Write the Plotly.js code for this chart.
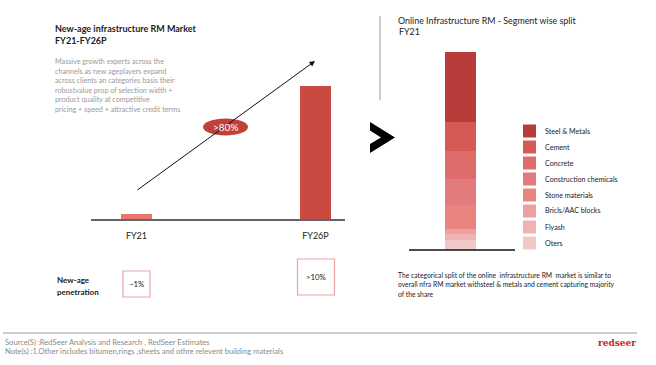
<!DOCTYPE html>
<html>
<head>
<meta charset="utf-8">
<script src="https://cdn.plot.ly/plotly-3.0.1.min.js"></script>
<style>html,body{margin:0;padding:0;background:#fff;}#chart{width:656px;height:365px;}</style>
</head>
<body>
<div id="chart"></div>
<script>
// ---- Data ----
var marketCategories = ['FY21', 'FY26P'];
var marketValues = [1, 26.6];
var marketColors = ['#e8766e', '#c94a40'];
var penetrationLabels = ['~1%', '>10%'];
var cagrLabel = '>80%';

var splitCategory = ['FY21'];
var segmentNames = ['Steel & Metals', 'Cement', 'Concrete', 'Construction chemicals', 'Stone materials', 'Bricls/AAC blocks', 'Flyash', 'Oters'];
var segmentShares = [35.4, 14.6, 14.1, 13.1, 12.1, 2.5, 3.0, 5.2];
var segmentColors = ['#b83c3a', '#d55a55', '#e06b6b', '#e27b7b', '#e8857e', '#eca0a0', '#f0b2b2', '#f1c8c8'];

var descLines = ['Massive growth experts across the', 'channels as new ageplayers expand', 'across clients an categories basis their', 'robustvalue prop of selection width +', 'product quality at competitive', 'pricing + speed + attractive credit terms'];
var rightNoteLines = ['The categorical split of the online  infrastructure RM  market is similar to', 'overall nfra RM market withsteel & metals and cement capturing majority', 'of the share'];

// ---- helpers (page pixels -> paper) ----
var W = 656, H = 365;
function px(x){ return x / W; }
function py(y){ return 1 - y / H; }
var FONT = 'Lato, "Open Sans", sans-serif';

var traces = [];
traces.push({
  type: 'bar', x: marketCategories, y: marketValues,
  marker: {color: marketColors}, width: 0.173,
  xaxis: 'x', yaxis: 'y', hoverinfo: 'none', showlegend: false
});
for (var i = segmentNames.length - 1; i >= 0; i--) {
  traces.push({
    type: 'bar', x: splitCategory, y: [segmentShares[i]], name: segmentNames[i],
    marker: {color: segmentColors[i]}, width: 1,
    xaxis: 'x2', yaxis: 'y2', hoverinfo: 'none', showlegend: false
  });
}

var annotations = [];
var shapes = [];
function txt(t, x, y, size, color, extra){
  var a = {text: t, x: px(x), y: py(y), xref: 'paper', yref: 'paper', xanchor: 'left', yanchor: 'middle',
    showarrow: false, font: {family: FONT, size: size, color: color}};
  if (extra) for (var k in extra) a[k] = extra[k];
  annotations.push(a);
}

// left titles
txt('<b>New-age infrastructure RM Market</b>', 53, 28, 9, '#222');
txt('<b>FY21-FY26P</b>', 53, 40, 9, '#222');
descLines.forEach(function(l, j){ txt(l, 53, 62 + j * 9.4, 7.2, '#9a9a9a'); });

// right titles
txt('Online Infrastructure RM - Segment wise split', 396, 20, 8.9, '#222');
txt('FY21', 397, 32, 8.9, '#222');

// arrow
annotations.push({x: px(315), y: py(61), ax: px(136), ay: py(191), xref: 'paper', yref: 'paper',
  axref: 'paper', ayref: 'paper', showarrow: true, arrowhead: 2, arrowsize: 1.1, arrowwidth: 1,
  arrowcolor: '#111', text: ''});
// cagr ellipse
shapes.push({type: 'circle', xref: 'paper', yref: 'paper', x0: px(203), x1: px(248), y0: py(118.5), y1: py(135.5),
  fillcolor: '#c0403a', line: {width: 0}, layer: 'above'});
annotations.push({text: cagrLabel, x: px(225.5), y: py(127), xref: 'paper', yref: 'paper', showarrow: false,
  xanchor: 'center', yanchor: 'middle', font: {family: FONT, size: 10, color: '#fff'}});

// penetration
txt('<b>New-age</b>', 55, 280, 8, '#222');
txt('<b>penetration</b>', 55, 292, 8, '#222');
var boxes = [[123, 150, 271, 297], [297.5, 334.5, 259, 295]];
boxes.forEach(function(b, j){
  shapes.push({type: 'rect', xref: 'paper', yref: 'paper', x0: px(b[0]), x1: px(b[1]), y0: py(b[2]), y1: py(b[3]),
    line: {color: '#f0a3a3', width: 1.2}, fillcolor: 'rgba(0,0,0,0)'});
  annotations.push({text: penetrationLabels[j], x: px((b[0] + b[1]) / 2), y: py(j === 0 ? 284 : 277), xref: 'paper', yref: 'paper',
    showarrow: false, xanchor: 'center', yanchor: 'middle', font: {family: FONT, size: 7.8, color: '#222'}});
});

// vertical separator
shapes.push({type: 'line', xref: 'paper', yref: 'paper', x0: px(380), x1: px(380), y0: py(16), y1: py(100),
  line: {color: '#bdbdbd', width: 1.5}});
// chevron
var chev = [[370,122],[395,137.5],[370,153],[370,144],[381,137.5],[370,130.5]];
var path = chev.map(function(p, j){ return (j ? 'L' : 'M') + px(p[0]).toFixed(5) + ',' + py(p[1]).toFixed(5); }).join(' ') + ' Z';
shapes.push({type: 'path', xref: 'paper', yref: 'paper', path: path, fillcolor: '#000', line: {width: 0}});

// right baseline
shapes.push({type: 'line', xref: 'paper', yref: 'paper', x0: px(409), x1: px(515), y0: py(250), y1: py(250),
  line: {color: '#111', width: 1.5}});

// custom legend
segmentNames.forEach(function(n, j){
  var cy = 131 + 16 * j;
  shapes.push({type: 'rect', xref: 'paper', yref: 'paper', x0: px(523), x1: px(536), y0: py(cy - 6.5), y1: py(cy + 6.5),
    fillcolor: segmentColors[j], line: {width: 0}});
  txt(n, 543, cy, 7.1, '#222');
});

// right note
rightNoteLines.forEach(function(l, j){ txt(l, 396, 275 + j * 9.3, 6.75, '#222'); });

// footer
shapes.push({type: 'line', xref: 'paper', yref: 'paper', x0: px(3), x1: px(637), y0: py(333), y1: py(333),
  line: {color: '#9e9e9e', width: 1.2}});
txt('Source(S) :RedSeer Analysis and Research , RedSeer Estimates', 3, 342, 7.6, '#8a8a8a');
txt('Note(s) :1.Other includes bitumen,rings ,sheets and othre relevent building materials', 3, 351, 7.6, '#8a8a8a');
annotations.push({text: '<b>redseer</b>', x: px(638), y: py(343), xref: 'paper', yref: 'paper', showarrow: false,
  xanchor: 'right', yanchor: 'middle', font: {family: '"DejaVu Serif", "Liberation Serif", serif', size: 9, color: '#c8262d'}});

var layout = {
  width: W, height: H, margin: {l: 0, r: 0, t: 0, b: 0},
  paper_bgcolor: '#fff', plot_bgcolor: 'rgba(0,0,0,0)',
  barmode: 'stack', showlegend: false,
  xaxis: {domain: [px(91), px(345)], range: [-0.254, 1.165], type: 'category', showgrid: false, zeroline: false,
    showline: true, linecolor: '#666', linewidth: 1.5, ticks: '', ticklabelstandoff: 8,
    tickfont: {family: FONT, size: 9, color: '#222'}, fixedrange: true},
  yaxis: {domain: [py(219), py(69)], range: [0, 30], visible: false, fixedrange: true},
  xaxis2: {domain: [px(409), px(515)], range: [-1.661, 1.758], type: 'category', visible: false, fixedrange: true},
  yaxis2: {domain: [py(250), py(52)], range: [0, 100], visible: false, fixedrange: true},
  annotations: annotations, shapes: shapes
};

Plotly.newPlot('chart', traces, layout, {staticPlot: true, displayModeBar: false});
</script>
</body>
</html>
